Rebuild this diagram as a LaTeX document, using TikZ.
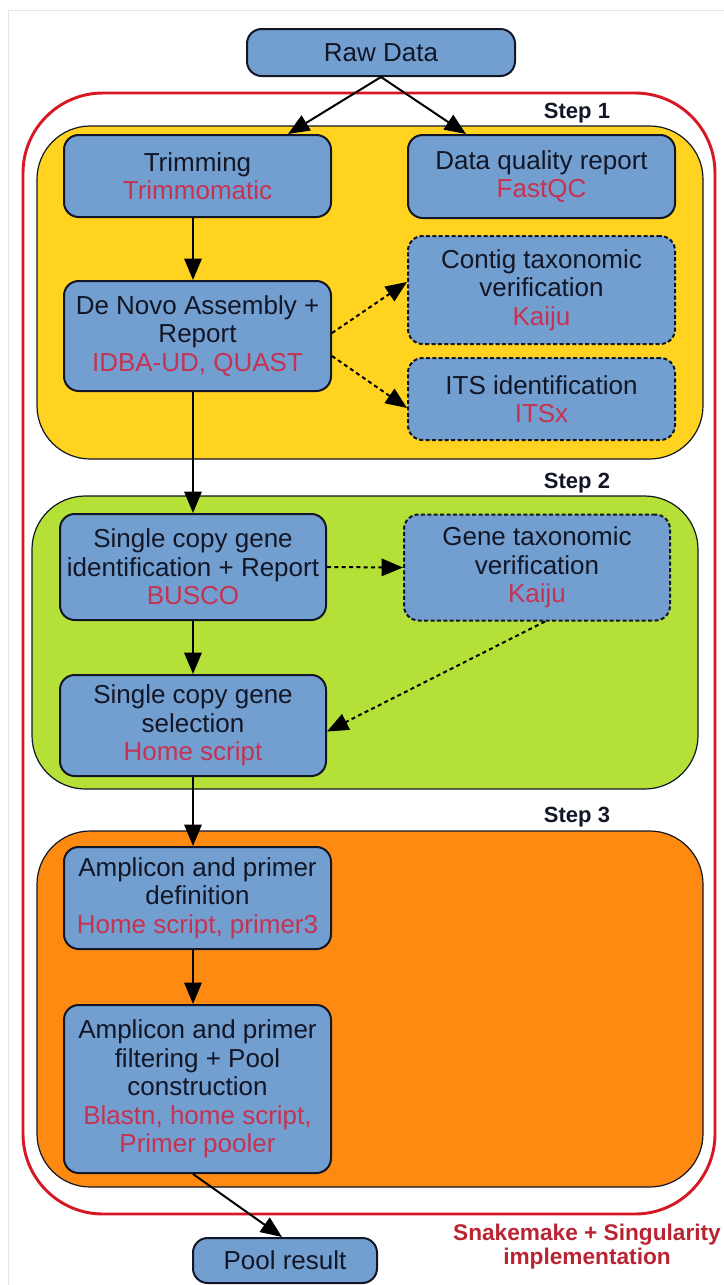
\documentclass[tikz,border=0pt]{standalone}
\usepackage{fontspec}
\setmainfont{Liberation Sans}
\usetikzlibrary{arrows.meta,calc}

\definecolor{stepone}{RGB}{255,211,32}
\definecolor{steptwo}{RGB}{180,224,56}
\definecolor{stepthree}{RGB}{255,138,18}
\definecolor{nodeblue}{RGB}{114,159,207}
\definecolor{toolred}{RGB}{198,50,82}
\definecolor{framered}{RGB}{214,24,36}
\definecolor{snakered}{RGB}{185,35,50}
\definecolor{ink}{RGB}{18,22,38}

\tikzset{
  box/.style={draw=ink, line width=1.5pt, fill=nodeblue, rounded corners=11pt,
    align=center, inner sep=0pt, text=ink, font=\fontsize{19.5}{21.4}\selectfont},
  dbox/.style={box, dash pattern=on 3pt off 1.8pt},
  sz/.style 2 args={minimum width=#1*0.75pt, minimum height=#2*0.75pt},
  arr/.style={draw=black, line width=1.5pt, -{Triangle[length=16pt,width=13pt]}},
  darr/.style={arr, dash pattern=on 3pt off 2.5pt},
  steparea/.style={draw=ink, line width=0.9pt, rounded corners=40pt},
  steplabel/.style={font=\fontsize{16.5}{18}\selectfont\bfseries, text=ink},
}
\newcommand{\tool}[1]{\textcolor{toolred}{#1}}

\begin{document}
\begin{tikzpicture}[x=0.75pt,y=0.75pt,yscale=-1]
	\useasboundingbox (0,0) rectangle (724,1285);
	%Shape: Frame
	\draw[gray!20, line width=0.75pt] (8,1285) -- (8,10) -- (724,10);
	%Shape: Snakemake container
	\draw[framered, line width=2.2pt, rounded corners=60pt] (23,93) rectangle (715,1214);
	%Shape: Step areas
	\draw[steparea, fill=stepone] (37,126) rectangle (703,459);
	\draw[steparea, fill=steptwo] (32,496) rectangle (698,789);
	\draw[steparea, fill=stepthree] (37,831) rectangle (703,1187);
	\node[steplabel] (lbla) at (577,113) {Step 1};
	\node[steplabel] (lblb) at (577,483) {Step 2};
	\node[steplabel] (lblc) at (577,817) {Step 3};

	%Nodes
	\node[box, sz={268}{47}] (raw) at (381,52.5) {Raw Data};
	\node[box, sz={267}{82}] (trim) at (197.5,176) {Trimming\\\tool{Trimmomatic}};
	\node[box, sz={267}{83}] (fastqc) at (541.5,176.5) {Data quality report\\\tool{FastQC}};
	\node[box, sz={267}{110}] (denovo) at (197.5,336) {De Novo Assembly +\\Report\\\tool{IDBA-UD, QUAST}};
	\node[dbox, sz={267}{108}] (contig) at (541.5,290) {Contig taxonomic\\verification\\\tool{Kaiju}};
	\node[dbox, sz={267}{82}] (its) at (541.5,399) {ITS identification\\\tool{ITSx}};
	\node[box, sz={266}{106}] (busco) at (193,567) {Single copy gene\\identification + Report\\\tool{BUSCO}};
	\node[dbox, sz={266}{106}] (genetax) at (537,567.5) {Gene taxonomic\\verification\\\tool{Kaiju}};
	\node[box, sz={266}{101}] (select) at (193,725.5) {Single copy gene\\selection\\\tool{Home script}};
	\node[box, sz={267}{102}] (ampdef) at (197.5,898) {Amplicon and primer\\definition\\\tool{Home script, primer3}};
	\node[box, sz={267}{168}] (ampfilt) at (197.5,1089) {Amplicon and primer\\filtering + Pool\\construction\\\tool{Blastn, home script,}\\\tool{Primer pooler}};
	\node[box, sz={184}{45}] (pool) at (285,1260.5) {Pool result};
	\node[font=\fontsize{17}{18}\selectfont\bfseries, text=snakered, align=center] (impl) at (587,1247) {Snakemake + Singularity\\implementation};

	%Connectors
	\draw[arr] (raw.south) -- ($(trim.north east)+(-44,0)$);
	\draw[arr] (raw.south) -- ($(fastqc.north west)+(59,0)$);
	\draw[arr] (trim.south -| busco) -- (denovo.north -| busco);
	\draw[darr] ($(denovo.east)+(0,-3)$) -- ($(contig.west)+(0,-8)$);
	\draw[darr] ($(denovo.east)+(0,20)$) -- ($(its.west)+(0,9)$);
	\draw[arr] (denovo.south -| busco) -- (busco.north);
	\draw[darr] (busco.east) -- (genetax.west);
	\draw[arr] (busco.south) -- (select.north);
	\draw[darr] ($(genetax.south)+(8,0)$) -- ($(select.east)+(0,6)$);
	\draw[arr] (select.south) -- (ampdef.north -| select);
	\draw[arr] (ampdef.south -| select) -- (ampfilt.north -| select);
	\draw[arr] (ampfilt.south -| select) -- ($(pool.north)+(-3,0)$);
\end{tikzpicture}
\end{document}
